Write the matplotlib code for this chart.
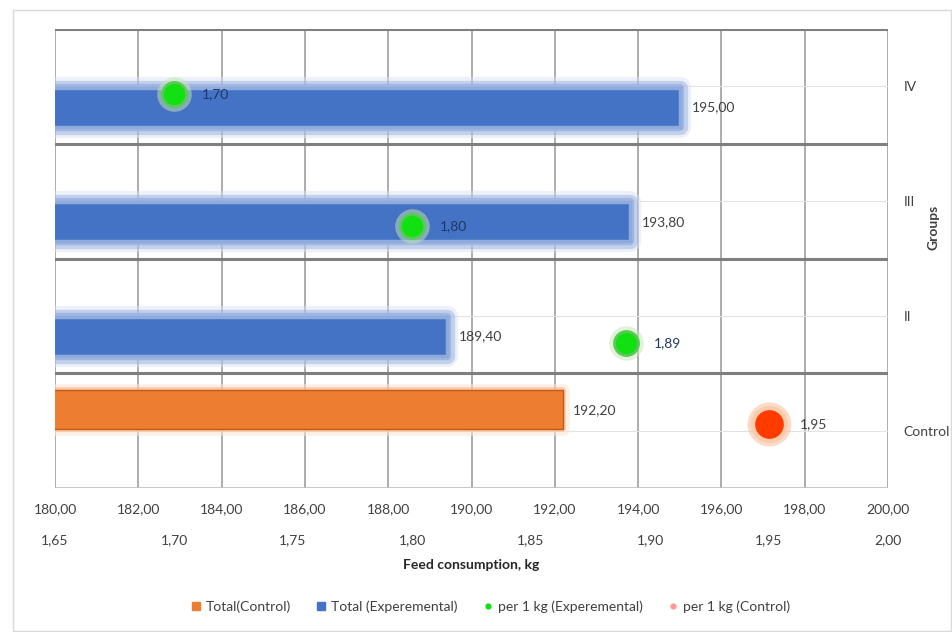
"""Feed consumption per group: total (bars) and per 1 kg gain (points)"""
import matplotlib
matplotlib.use('Agg')
import matplotlib.pyplot as plt
import matplotlib.patheffects as pe
from matplotlib.lines import Line2D
from matplotlib.patches import Rectangle

plt.rcParams['font.family'] = ['Lato', 'DejaVu Sans']

# data
groups = ['Control', 'II', 'III', 'IV']
total_control = [192.20]                 # Control group only
total_experimental = [189.40, 193.80, 195.00]   # II, III, IV
per_kg_experimental = [1.89, 1.80, 1.70]        # II, III, IV
per_kg_control = [1.95]
# vertical placement of the points inside each group band (as drawn in the original)
per_kg_exp_y = [0.76, 1.78, 2.93]
per_kg_ctrl_y = [0.06]

primary_ticks = [180, 182, 184, 186, 188, 190, 192, 194, 196, 198, 200]
secondary_ticks = [1.65, 1.70, 1.75, 1.80, 1.85, 1.90, 1.95, 2.00]

ORANGE = '#ED7D31'
BLUE = '#4472C4'
TXT = '#404040'
FS = 10


def comma(v):
    return f'{v:.2f}'.replace('.', ',')


fig = plt.figure(figsize=(9.52, 6.32), dpi=100)
fig.patches.append(Rectangle((13 / 952, 1 / 632), 938 / 952, 621 / 632, transform=fig.transFigure,
                             fill=False, edgecolor='#d9d9d9', lw=1))
ax = fig.add_axes([55 / 952, 1 - 488 / 632, 833 / 952, 459 / 632])
ax.set_xlim(180, 200)
ax.set_ylim(-0.5, 3.5)
for s in ax.spines.values():
    s.set_visible(False)

# gridlines
ax.set_axisbelow(True)
for x in primary_ticks:
    ax.axvline(x, color='#a6a6a6', lw=1.3, zorder=0)
for y in range(len(groups)):
    ax.axhline(y, color='#e3e3e3', lw=0.8, zorder=0)
for y in [0.5, 1.5, 2.5, 3.5]:
    ax.axhline(y, color='#7f7f7f', lw=2.2, zorder=0.5)
ax.axhline(-0.5, color='#bfbfbf', lw=1.2, zorder=0.5)

bar_h = 0.34
# control bar sits in the upper half of its band, experimental bars in the lower half
ctrl_y = [0 + 0.18]
ctrl_bars = ax.barh(ctrl_y, total_control, height=bar_h, color=ORANGE,
                    edgecolor='#C55A11', lw=1, zorder=2)
for b in ctrl_bars:
    b.set_path_effects([pe.Stroke(linewidth=9, foreground='#FBE5D6', alpha=0.6, joinstyle='round'),
                        pe.Stroke(linewidth=4, foreground='#F4B183', alpha=0.6, joinstyle='round'),
                        pe.Normal()])
exp_y = [i - 0.18 for i in range(1, len(groups))]
exp_bars = ax.barh(exp_y, total_experimental, height=bar_h, color=BLUE,
                   edgecolor='#8FAADC', lw=2.5, zorder=2)
for b in exp_bars:
    b.set_path_effects([pe.Stroke(linewidth=16, foreground='#DAE3F3', alpha=0.5, joinstyle='round'),
                        pe.Stroke(linewidth=11, foreground='#8FAADC', alpha=0.45, joinstyle='round'),
                        pe.Stroke(linewidth=6, foreground='#9DB5E2', alpha=0.9, joinstyle='round'),
                        pe.Normal()])

for y, v in zip(ctrl_y, total_control):
    ax.annotate(comma(v), (v, y), xytext=(7, 0), textcoords='offset points',
                va='center', ha='left', fontsize=FS, color=TXT, zorder=5)
for y, v in zip(exp_y, total_experimental):
    ax.annotate(comma(v), (v, y), xytext=(9, 0), textcoords='offset points',
                va='center', ha='left', fontsize=FS, color=TXT, zorder=5)

ax.yaxis.tick_right()
ax.set_yticks(range(len(groups)), groups)
ax.tick_params(axis='y', length=0, pad=11, labelsize=FS, labelcolor=TXT)
ax.set_xticks(primary_ticks, [comma(t) for t in primary_ticks])
ax.tick_params(axis='x', length=0, pad=11, labelsize=FS, labelcolor=TXT)
fig.text(933 / 952, 1 - 227 / 632, 'Groups', rotation=90, ha='center', va='center',
         fontsize=FS, fontweight='bold', color=TXT)

# per 1 kg on a secondary x axis
ax2 = ax.twiny()
ax2.set_xlim(1.65, 2.00)
for s in ax2.spines.values():
    s.set_visible(False)
ax2.xaxis.set_ticks_position('bottom')
ax2.xaxis.set_label_position('bottom')
ax2.spines['bottom'].set_position(('outward', 23))
ax2.set_xticks(secondary_ticks, [comma(t) for t in secondary_ticks])
ax2.tick_params(axis='x', length=0, pad=10.5, labelsize=FS, labelcolor=TXT)
ax2.set_xlabel('Feed consumption, kg', fontsize=FS, fontweight='bold', color='#262626', labelpad=9)

ax2.scatter(per_kg_experimental, per_kg_exp_y, s=620, color='#C5E8B0', alpha=0.5, lw=0, zorder=3)
ax2.scatter(per_kg_experimental, per_kg_exp_y, s=300, color='#11E011', edgecolors='#5CC85C',
            linewidths=2, zorder=4)
ax2.scatter(per_kg_control, per_kg_ctrl_y, s=1000, color='#F4B183', alpha=0.45, lw=0, zorder=3)
ax2.scatter(per_kg_control, per_kg_ctrl_y, s=560, color='#FF3B00', edgecolors='#F8CBAD',
            linewidths=3, zorder=4)
for x, y in zip(per_kg_experimental, per_kg_exp_y):
    ax2.annotate(comma(x), (x, y), xytext=(20, 0), textcoords='offset points',
                 va='center', ha='left', fontsize=FS, color='#1F3864', zorder=5)
for x, y in zip(per_kg_control, per_kg_ctrl_y):
    ax2.annotate(comma(x), (x, y), xytext=(22, 0), textcoords='offset points',
                 va='center', ha='left', fontsize=FS, color=TXT, zorder=5)

handles = [Line2D([], [], marker='s', ls='', color=ORANGE, markersize=6),
           Line2D([], [], marker='s', ls='', color=BLUE, markersize=6),
           Line2D([], [], marker='o', ls='', color='#11E011', markersize=3.5),
           Line2D([], [], marker='o', ls='', color='#FF9999', markersize=3.5)]
labels = ['Total(Control)', 'Total (Experemental)', 'per 1 kg (Experemental)', 'per 1 kg (Control)']
fig.legend(handles, labels, loc='center', bbox_to_anchor=(491 / 952, 1 - 607 / 632), ncol=4,
           frameon=False, fontsize=FS, handlelength=0.6, handletextpad=0.4, columnspacing=1.9,
           labelcolor=TXT)

fig.savefig('out.png', dpi=100)
